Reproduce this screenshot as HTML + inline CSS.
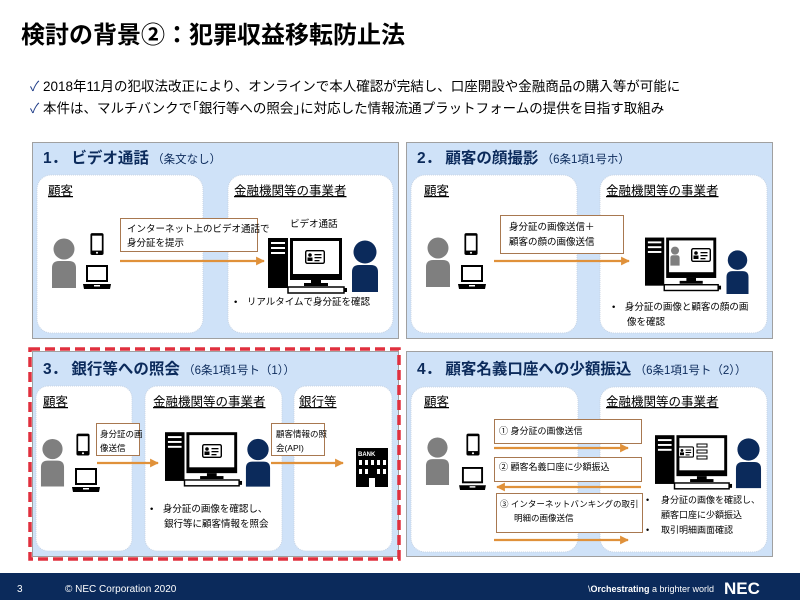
<!DOCTYPE html>
<html><head><meta charset="utf-8"><style>
html,body{margin:0;padding:0;width:800px;height:600px;overflow:hidden;background:#fff}
svg{display:block}
text{font-family:"Liberation Sans","Noto Sans CJK JP",sans-serif}
</style></head><body>
<svg width="800" height="600" viewBox="0 0 800 600" xmlns="http://www.w3.org/2000/svg">
<defs>
<symbol id="gp" viewBox="0 0 26 50"><circle cx="13" cy="11" r="10.5" fill="#7f7f7f"/><path d="M1 50 V30 Q1 23 8 23 H18 Q25 23 25 30 V50Z" fill="#7f7f7f"/></symbol>
<symbol id="np" viewBox="0 0 28 52"><circle cx="14" cy="12" r="11.5" fill="#0b2a5b"/><path d="M1 52 V32 Q1 25 8 25 H20 Q27 25 27 32 V52Z" fill="#0b2a5b"/></symbol>
<symbol id="ph" viewBox="0 0 16 26"><rect x="0.5" y="0.5" width="15" height="25" rx="2" fill="#000"/><rect x="2.5" y="3.5" width="11" height="17" fill="#fff"/><circle cx="8" cy="23" r="1.2" fill="#fff"/></symbol>
<symbol id="lp" viewBox="0 0 28 24"><rect x="3" y="0" width="22" height="17" fill="#000"/><rect x="5" y="2" width="18" height="13" fill="#fff"/><path d="M0 19 H28 L27 24 H1Z" fill="#000"/><rect x="11" y="20" width="6" height="1.5" fill="#fff"/></symbol>
<symbol id="pc" viewBox="0 0 80 56"><rect x="0" y="0" width="20" height="50" fill="#000"/><rect x="3" y="4" width="14" height="2" fill="#fff"/><rect x="3" y="9" width="14" height="2" fill="#fff"/><rect x="3" y="14" width="14" height="2" fill="#fff"/><rect x="22" y="0" width="52" height="42" fill="#000"/><rect x="25" y="3" width="46" height="33" fill="#fff"/><rect x="43" y="42" width="10" height="4" fill="#000"/><rect x="36" y="45" width="24" height="3" fill="#000"/><rect x="20" y="49" width="56" height="6" fill="#fff" stroke="#000" stroke-width="1.5"/><rect x="76" y="50" width="3" height="4" fill="#000"/></symbol>
<symbol id="card" viewBox="0 0 20 14"><rect x="0.7" y="0.7" width="18.6" height="12.6" rx="1.5" fill="#fff" stroke="#000" stroke-width="1.4"/><circle cx="5" cy="5" r="1.8" fill="#000"/><rect x="2.5" y="7.5" width="5" height="3.5" fill="#000"/><rect x="9.5" y="4" width="7" height="1.3" fill="#000"/><rect x="9.5" y="7" width="7" height="1.3" fill="#000"/><rect x="9.5" y="10" width="5" height="1.3" fill="#000"/></symbol>
<marker id="ar" viewBox="0 0 10 10" refX="9" refY="5" markerWidth="4" markerHeight="4" orient="auto-start-reverse"><path d="M0 0 L10 5 L0 10Z" fill="#e0913a"/></marker>
</defs>

<text x="21" y="43" font-size="24" font-weight="bold" fill="#000">検討の背景②：犯罪収益移転防止法</text>
<text x="30" y="91" font-size="13.5" fill="#000"><tspan fill="#1f3c88">✓</tspan> 2018年11月の犯収法改正により、オンラインで本人確認が完結し、口座開設や金融商品の購入等が可能に</text>
<text x="30" y="113" font-size="13.5" fill="#000"><tspan fill="#1f3c88">✓</tspan> 本件は、マルチバンクで｢銀行等への照会｣に対応した情報流通プラットフォームの提供を目指す取組み</text>

<g stroke="#a0a0a0" stroke-width="1" fill="#cfe2f8">
<rect x="32.5" y="142.5" width="366" height="196"/>
<rect x="406.5" y="142.5" width="366" height="196"/>
<rect x="32.5" y="351.5" width="366" height="205"/>
<rect x="406.5" y="351.5" width="366" height="205"/>
</g>
<rect x="30" y="349" width="369" height="210" fill="none" stroke="#e0303e" stroke-width="3.5" stroke-dasharray="10,5"/>

<g fill="#fff" stroke="#c8d4e4" stroke-dasharray="1,1">
<rect x="37" y="175" width="166" height="158" rx="14"/>
<rect x="228" y="175" width="165" height="158" rx="14"/>
<rect x="411" y="175" width="166" height="158" rx="14"/>
<rect x="600" y="175" width="167" height="158" rx="14"/>
<rect x="36" y="386" width="96" height="165" rx="12"/>
<rect x="145" y="386" width="137" height="165" rx="12"/>
<rect x="294" y="386" width="98" height="165" rx="12"/>
<rect x="411" y="387" width="167" height="165" rx="14"/>
<rect x="600" y="387" width="167" height="165" rx="14"/>
</g>

<g fill="#0b2a5b" font-weight="bold" font-size="15.5">
<text x="43" y="163">1． ビデオ通話<tspan font-weight="normal" font-size="11.5"> （条文なし）</tspan></text>
<text x="417" y="163">2． 顧客の顔撮影<tspan font-weight="normal" font-size="11.5"> （6条1項1号ホ）</tspan></text>
<text x="43" y="374">3． 銀行等への照会<tspan font-weight="normal" font-size="11.5"> （6条1項1号ト（1））</tspan></text>
<text x="417" y="374">4． 顧客名義口座への少額振込<tspan font-weight="normal" font-size="11.5"> （6条1項1号ト（2））</tspan></text>
</g>

<g font-size="12.5" fill="#000" text-decoration="underline">
<text x="48" y="195">顧客</text>
<text x="234" y="195">金融機関等の事業者</text>
<text x="424" y="195">顧客</text>
<text x="606" y="195">金融機関等の事業者</text>
<text x="43" y="406">顧客</text>
<text x="153" y="406">金融機関等の事業者</text>
<text x="299" y="406">銀行等</text>
<text x="424" y="406">顧客</text>
<text x="606" y="406">金融機関等の事業者</text>
</g>

<!-- Panel 1 -->
<use href="#gp" x="51" y="238" width="26" height="50"/>
<use href="#ph" x="90" y="231" width="14" height="26"/>
<use href="#lp" x="83" y="265" width="28" height="24"/>
<rect x="120.5" y="218.5" width="137" height="33" fill="#fff" stroke="#a87850"/>
<text x="127" y="232" font-size="9.5">インターネット上のビデオ通話で</text>
<text x="127" y="246" font-size="9.5">身分証を提示</text>
<line x1="120" y1="261" x2="264" y2="261" stroke="#e0913a" stroke-width="2.2" marker-end="url(#ar)"/>
<text x="290" y="227" font-size="9.5">ビデオ通話</text>
<use href="#pc" x="268" y="238" width="80" height="56"/>
<use href="#card" x="305" y="250" width="20" height="14"/>
<use href="#np" x="351" y="240" width="28" height="52"/>
<text x="234" y="305" font-size="9.5">•　リアルタイムで身分証を確認</text>

<!-- Panel 2 -->
<use href="#gp" x="425" y="237" width="26" height="50"/>
<use href="#ph" x="464" y="231" width="14" height="26"/>
<use href="#lp" x="458" y="265" width="28" height="24"/>
<rect x="500.5" y="215.5" width="123" height="38" fill="#fff" stroke="#a87850"/>
<text x="509" y="230" font-size="9.5">身分証の画像送信＋</text>
<text x="509" y="245" font-size="9.5">顧客の顔の画像送信</text>
<line x1="494" y1="261" x2="629" y2="261" stroke="#e0913a" stroke-width="2.2" marker-end="url(#ar)"/>
<use href="#pc" x="645" y="237" width="77" height="55"/>
<use href="#gp" x="670" y="246" width="10" height="20"/>
<use href="#card" x="691" y="248" width="20" height="14"/>
<use href="#np" x="725" y="250" width="25" height="44"/>
<text x="612" y="310" font-size="9.5">•　身分証の画像と顧客の顔の画</text>
<text x="627" y="325" font-size="9.5">像を確認</text>

<!-- Panel 3 -->
<use href="#gp" x="40" y="438" width="25" height="49"/>
<use href="#ph" x="76" y="432" width="14" height="25"/>
<use href="#lp" x="72" y="468" width="28" height="24"/>
<rect x="96.5" y="423.5" width="43" height="32" fill="#fff" stroke="#a87850"/>
<text x="100" y="437" font-size="8.5">身分証の画</text>
<text x="100" y="451" font-size="8.5">像送信</text>
<line x1="97" y1="463" x2="158" y2="463" stroke="#e0913a" stroke-width="2.2" marker-end="url(#ar)"/>
<use href="#pc" x="165" y="432" width="78" height="55"/>
<use href="#card" x="202" y="444" width="20" height="14"/>
<use href="#np" x="245" y="437" width="26" height="51"/>
<text x="150" y="512" font-size="9.5">•　身分証の画像を確認し、</text>
<text x="164" y="527" font-size="9.5">銀行等に顧客情報を照会</text>
<rect x="271.5" y="423.5" width="53" height="32" fill="#fff" stroke="#a87850"/>
<text x="276" y="437" font-size="8.5">顧客情報の照</text>
<text x="276" y="451" font-size="8.5">会(API)</text>
<line x1="271" y1="463" x2="343" y2="463" stroke="#e0913a" stroke-width="2.2" marker-end="url(#ar)"/>
<g>
<rect x="356" y="448" width="32" height="39" fill="#000"/>
<text x="358" y="456" font-size="6" font-weight="bold" fill="#fff">BANK</text>
<g fill="#fff"><rect x="359" y="460" width="3" height="5"/><rect x="365" y="460" width="3" height="5"/><rect x="371" y="460" width="3" height="5"/><rect x="377" y="460" width="3" height="5"/><rect x="383" y="460" width="3" height="5"/>
<rect x="359" y="469" width="3" height="5"/><rect x="365" y="469" width="3" height="5"/><rect x="377" y="469" width="3" height="5"/><rect x="383" y="469" width="3" height="5"/><rect x="369" y="478" width="6" height="9"/></g>
</g>

<!-- Panel 4 -->
<use href="#gp" x="425" y="437" width="25" height="48"/>
<use href="#ph" x="466" y="432" width="14" height="25"/>
<use href="#lp" x="459" y="467" width="27" height="23"/>
<rect x="494.5" y="419.5" width="147" height="24" fill="#fff" stroke="#a87850"/>
<text x="499" y="434" font-size="9">①  身分証の画像送信</text>
<line x1="494" y1="448" x2="628" y2="448" stroke="#e0913a" stroke-width="2.2" marker-end="url(#ar)"/>
<rect x="494.5" y="457.5" width="147" height="24" fill="#fff" stroke="#a87850"/>
<text x="499" y="470" font-size="9">②   顧客名義口座に少額振込</text>
<line x1="497" y1="487" x2="641" y2="487" stroke="#e0913a" stroke-width="2.2" marker-start="url(#ar)"/>
<rect x="496.5" y="493.5" width="146" height="39" fill="#fff" stroke="#a87850"/>
<text x="500" y="507" font-size="8.5">③ インターネットバンキングの取引</text>
<text x="514" y="521" font-size="8.5">明細の画像送信</text>
<line x1="494" y1="540" x2="628" y2="540" stroke="#e0913a" stroke-width="2.2" marker-end="url(#ar)"/>
<use href="#pc" x="655" y="435" width="78" height="55"/>
<use href="#card" x="678" y="446" width="16" height="12"/>
<g fill="none" stroke="#000" stroke-width="1"><rect x="697" y="444" width="10" height="3"/><rect x="697" y="450" width="10" height="3"/><rect x="697" y="456" width="10" height="3"/></g>
<use href="#np" x="735" y="437" width="27" height="52"/>
<text x="646" y="503" font-size="9">•</text>
<text x="661" y="503" font-size="9">身分証の画像を確認し、</text>
<text x="661" y="518" font-size="9">顧客口座に少額振込</text>
<text x="646" y="533" font-size="9">•</text>
<text x="661" y="533" font-size="9">取引明細画面確認</text>

<rect x="0" y="573" width="800" height="27" fill="#0b2a5b"/>
<text x="17" y="592" font-size="10" fill="#fff">3</text>
<text x="65" y="592" font-size="10" fill="#fff">© NEC Corporation 2020</text>
<text x="588" y="592" font-size="9" fill="#fff">\<tspan font-weight="bold">Orchestrating</tspan> a brighter world</text>
<text x="724" y="594" font-size="17" font-weight="bold" fill="#fff">NEC</text>
</svg>
</body></html>
